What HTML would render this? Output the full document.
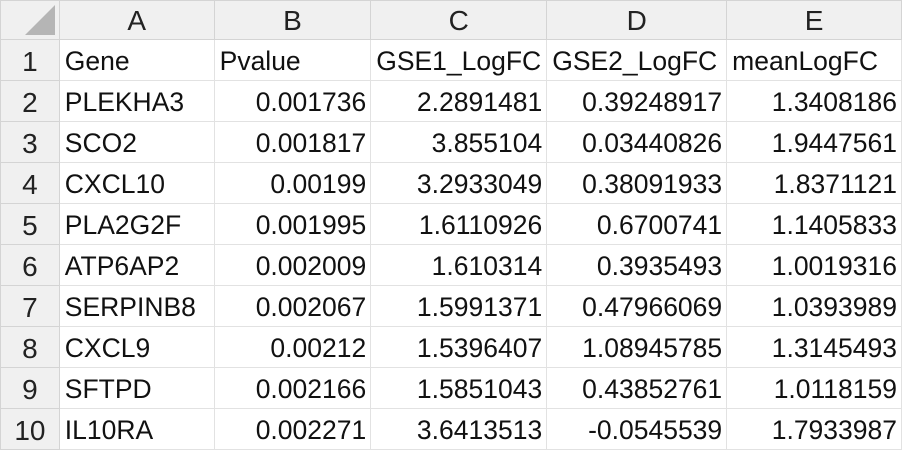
<!DOCTYPE html>
<html><head><meta charset="utf-8"><style>
body{margin:0;width:902px;height:452px;overflow:hidden;background:#fff;font-family:"Liberation Sans","Noto Sans CJK SC",sans-serif;}
table{border-collapse:collapse;table-layout:fixed;position:absolute;left:0;top:0;}
td{height:40px;border:1px solid #e2e2e2;font-size:26.5px;color:#111;padding:3px 5px 0 5px;white-space:nowrap;overflow:hidden;box-sizing:border-box;}
tr:first-child td{height:39px;background:#f0f0f0;text-align:center;border-color:#d4d4d4;color:#222;font-size:28px;padding-top:2px;}
tr td:first-child{background:#f0f0f0;text-align:center;border-color:#d4d4d4;color:#222;font-size:28px;}
td.r{text-align:right;padding-right:4px;}
tr.d td{height:41px;}
.corner{position:relative;}
.tri{position:absolute;right:4px;bottom:4px;width:0;height:0;border-left:30px solid transparent;border-bottom:30px solid #b5b5b5;}
</style></head><body>
<table>
<colgroup><col style="width:59px"><col style="width:155px"><col style="width:157px"><col style="width:176px"><col style="width:180px"><col style="width:175px"></colgroup>
<tr><td class="corner"><div class="tri"></div></td><td>A</td><td>B</td><td>C</td><td>D</td><td>E</td></tr>
<tr class="d"><td>1</td><td>Gene</td><td>Pvalue</td><td>GSE1_LogFC</td><td>GSE2_LogFC</td><td>meanLogFC</td></tr>
<tr class="d"><td>2</td><td>PLEKHA3</td><td class="r">0.001736</td><td class="r">2.2891481</td><td class="r">0.39248917</td><td class="r">1.3408186</td></tr>
<tr class="d"><td>3</td><td>SCO2</td><td class="r">0.001817</td><td class="r">3.855104</td><td class="r">0.03440826</td><td class="r">1.9447561</td></tr>
<tr class="d"><td>4</td><td>CXCL10</td><td class="r">0.00199</td><td class="r">3.2933049</td><td class="r">0.38091933</td><td class="r">1.8371121</td></tr>
<tr class="d"><td>5</td><td>PLA2G2F</td><td class="r">0.001995</td><td class="r">1.6110926</td><td class="r">0.6700741</td><td class="r">1.1405833</td></tr>
<tr class="d"><td>6</td><td>ATP6AP2</td><td class="r">0.002009</td><td class="r">1.610314</td><td class="r">0.3935493</td><td class="r">1.0019316</td></tr>
<tr class="d"><td>7</td><td>SERPINB8</td><td class="r">0.002067</td><td class="r">1.5991371</td><td class="r">0.47966069</td><td class="r">1.0393989</td></tr>
<tr class="d"><td>8</td><td>CXCL9</td><td class="r">0.00212</td><td class="r">1.5396407</td><td class="r">1.08945785</td><td class="r">1.3145493</td></tr>
<tr class="d"><td>9</td><td>SFTPD</td><td class="r">0.002166</td><td class="r">1.5851043</td><td class="r">0.43852761</td><td class="r">1.0118159</td></tr>
<tr class="d"><td>10</td><td>IL10RA</td><td class="r">0.002271</td><td class="r">3.6413513</td><td class="r">-0.0545539</td><td class="r">1.7933987</td></tr>
</table>
</body></html>
